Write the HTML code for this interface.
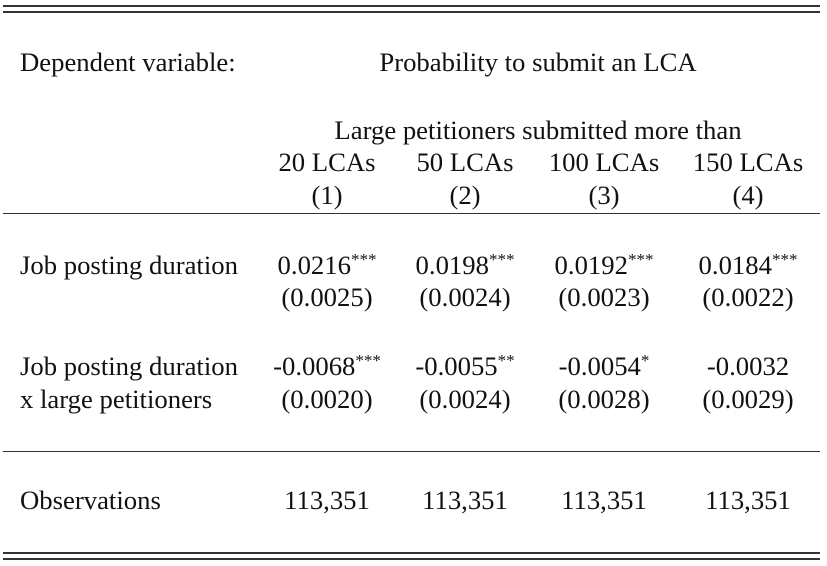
<!DOCTYPE html>
<html><head><style>
body{margin:0;width:827px;height:566px;background:#fff;position:relative;overflow:hidden;font-family:"Liberation Serif",serif;color:#111;font-size:26.7px}
.l{position:absolute;left:3px;width:817px;background:#333}
.t{position:absolute;line-height:30px;white-space:nowrap}
.c{position:absolute;line-height:30px;white-space:nowrap;transform:translateX(-50%)}
sup{font-size:17px;vertical-align:0;position:relative;top:-9px}
</style></head><body>
<div class="l" style="top:5px;height:1.5px"></div>
<div class="l" style="top:11px;height:1.5px"></div>
<div class="l" style="top:213px;height:1px"></div>
<div class="l" style="top:451px;height:1px"></div>
<div class="l" style="top:552px;height:1.5px"></div>
<div class="l" style="top:558px;height:1.5px"></div>

<div class="t" style="left:20px;top:47px">Dependent variable:</div>
<div class="c" style="left:538px;top:47px">Probability to submit an LCA</div>
<div class="c" style="left:538px;top:115px">Large petitioners submitted more than</div>

<div class="c" style="left:327px;top:147px">20 LCAs</div>
<div class="c" style="left:465px;top:147px">50 LCAs</div>
<div class="c" style="left:604px;top:147px">100 LCAs</div>
<div class="c" style="left:748px;top:147px">150 LCAs</div>
<div class="c" style="left:327px;top:180px">(1)</div>
<div class="c" style="left:465px;top:180px">(2)</div>
<div class="c" style="left:604px;top:180px">(3)</div>
<div class="c" style="left:748px;top:180px">(4)</div>

<div class="t" style="left:20px;top:250px">Job posting duration</div>
<div class="c" style="left:327px;top:250px">0.0216<sup>***</sup></div>
<div class="c" style="left:465px;top:250px">0.0198<sup>***</sup></div>
<div class="c" style="left:604px;top:250px">0.0192<sup>***</sup></div>
<div class="c" style="left:748px;top:250px">0.0184<sup>***</sup></div>
<div class="c" style="left:327px;top:282px">(0.0025)</div>
<div class="c" style="left:465px;top:282px">(0.0024)</div>
<div class="c" style="left:604px;top:282px">(0.0023)</div>
<div class="c" style="left:748px;top:282px">(0.0022)</div>

<div class="t" style="left:20px;top:351px">Job posting duration</div>
<div class="t" style="left:20px;top:384px">x large petitioners</div>
<div class="c" style="left:327px;top:351px">-0.0068<sup>***</sup></div>
<div class="c" style="left:465px;top:351px">-0.0055<sup>**</sup></div>
<div class="c" style="left:604px;top:351px">-0.0054<sup>*</sup></div>
<div class="c" style="left:748px;top:351px">-0.0032</div>
<div class="c" style="left:327px;top:384px">(0.0020)</div>
<div class="c" style="left:465px;top:384px">(0.0024)</div>
<div class="c" style="left:604px;top:384px">(0.0028)</div>
<div class="c" style="left:748px;top:384px">(0.0029)</div>

<div class="t" style="left:20px;top:485px">Observations</div>
<div class="c" style="left:327px;top:485px">113,351</div>
<div class="c" style="left:465px;top:485px">113,351</div>
<div class="c" style="left:604px;top:485px">113,351</div>
<div class="c" style="left:748px;top:485px">113,351</div>
</body></html>
